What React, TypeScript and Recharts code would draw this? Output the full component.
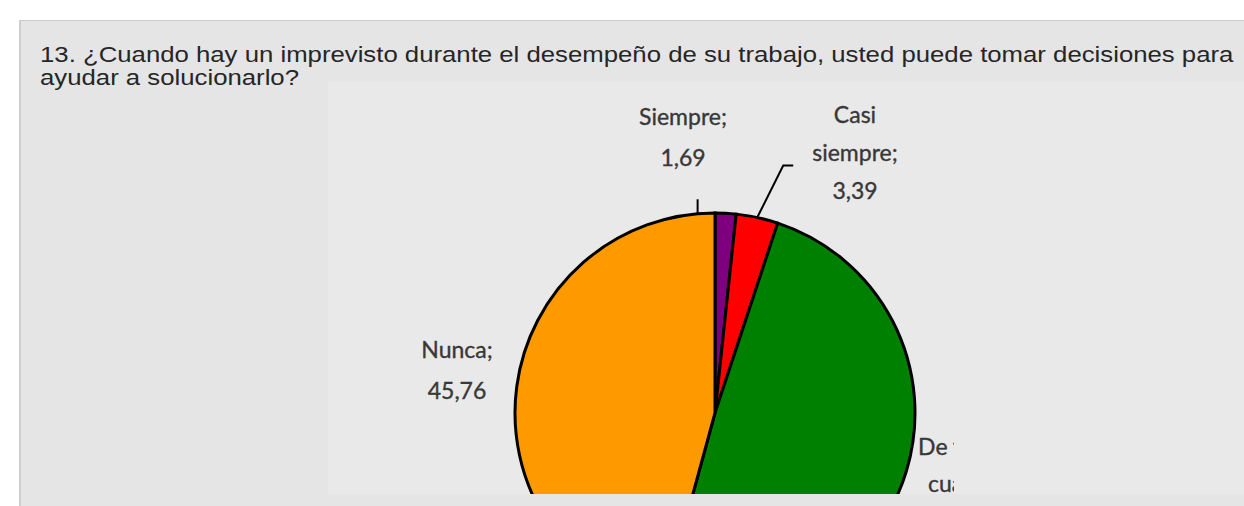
import React from "react";
import { PieChart, Pie, Cell } from "recharts";

// Respuestas a la pregunta 13 (porcentaje)
const categories = ["Siempre", "Casi siempre", "De vez en cuando", "Nunca"];
const percentages = [1.69, 3.39, 49.16, 45.76];
const labelWraps = [["Siempre;"], ["Casi", "siempre;"], ["De vez en", "cuando;"], ["Nunca;"]];
const sliceColors = ["#7f007f", "#ff0000", "#008000", "#ff9900"];

const titleLines = [
  "13. ¿Cuando hay un imprevisto durante el desempeño de su trabajo, usted puede tomar decisiones para",
  "ayudar a solucionarlo?",
];

const pieData = categories.map((name, i) => ({ name, value: percentages[i] }));

// label placement relative to pie centre (px), excel style
const labelLayout = [
  { dx: -32, dy: -294, gap: 41 },
  { dx: 140, dy: -296, gap: 38 },
  { dx: 253, dy: 36, gap: 37 },
  { dx: -258, dy: -61, gap: 41 },
];

const RAD = Math.PI / 180;

const renderLabel = (props: any) => {
  const { cx, cy, midAngle, outerRadius, index, value } = props;
  const lay = labelLayout[index];
  const lines = [...labelWraps[index], value.toFixed(2).replace(".", ",")];
  const ax = cx + outerRadius * Math.cos(-midAngle * RAD);
  const ay = cy + outerRadius * Math.sin(-midAngle * RAD);
  let leader: React.ReactNode = null;
  if (index === 0) {
    leader = <polyline points={`${ax - 28},${ay} ${ax - 28},${ay - 14}`} stroke="#000" strokeWidth={2} fill="none" />;
  } else if (index === 1) {
    leader = (
      <polyline
        points={`${ax},${ay} ${ax + 26},${ay - 52} ${ax + 36},${ay - 52}`}
        stroke="#000"
        strokeWidth={2}
        fill="none"
      />
    );
  }
  const clipId = `lbl-clip-${index}`;
  const clipped = index === 2;
  return (
    <g key={`lbl-${index}`}>
      {clipped && (
        <defs>
          <clipPath id={clipId}>
            <rect x={cx + outerRadius} y={cy} width={39} height={81} />
          </clipPath>
        </defs>
      )}
      {leader}
      <text
        x={cx + lay.dx}
        y={cy + lay.dy}
        textAnchor="middle"
        fill="#383838"
        stroke="#383838"
        strokeWidth={0.35}
        fontFamily="Lato, 'Open Sans', sans-serif"
        fontSize={23}
        clipPath={clipped ? `url(#${clipId})` : undefined}
      >
        {lines.map((t, i) => (
          <tspan key={i} x={cx + lay.dx} y={cy + lay.dy + i * lay.gap} dominantBaseline="middle">
            {t}
          </tspan>
        ))}
      </text>
    </g>
  );
};

export default function App() {
  return (
    <div
      style={{
        position: "fixed",
        left: 0,
        top: 0,
        width: 1244,
        height: 506,
        background: "#ffffff",
        overflow: "hidden",
      }}
    >
      <div
        style={{
          position: "absolute",
          left: 19,
          top: 20,
          width: 1225,
          height: 485,
          background: "#e5e5e5",
          borderTop: "1px solid #cdcdcd",
          borderLeft: "2px solid #cdcdcd",
        }}
      />
      <div
        style={{
          position: "absolute",
          left: 328,
          top: 82,
          width: 916,
          height: 412,
          background: "#e9e9e9",
        }}
      />
      {titleLines.map((t, i) => (
        <div
          key={i}
          style={{
            position: "absolute",
            left: 40,
            top: 43 + i * 23,
            fontFamily: "'Liberation Sans', Arial, sans-serif",
            fontSize: 22,
            lineHeight: "24px",
            color: "#262626",
            whiteSpace: "nowrap",
            transform: "scaleX(1.17)",
            transformOrigin: "left top",
          }}
        >
          {t}
        </div>
      ))}
      <div style={{ position: "absolute", left: 0, top: 0 }}>
        <PieChart width={1244} height={494} margin={{ top: 0, right: 0, bottom: 0, left: 0 }}>
          <Pie
            data={pieData}
            dataKey="value"
            nameKey="name"
            cx={715}
            cy={413}
            outerRadius={200}
            startAngle={90}
            endAngle={-270}
            stroke="#000000"
            strokeWidth={3}
            label={renderLabel}
            labelLine={false}
            isAnimationActive={false}
          >
            {pieData.map((d, i) => (
              <Cell key={d.name} fill={sliceColors[i]} />
            ))}
          </Pie>
        </PieChart>
      </div>
    </div>
  );
}
